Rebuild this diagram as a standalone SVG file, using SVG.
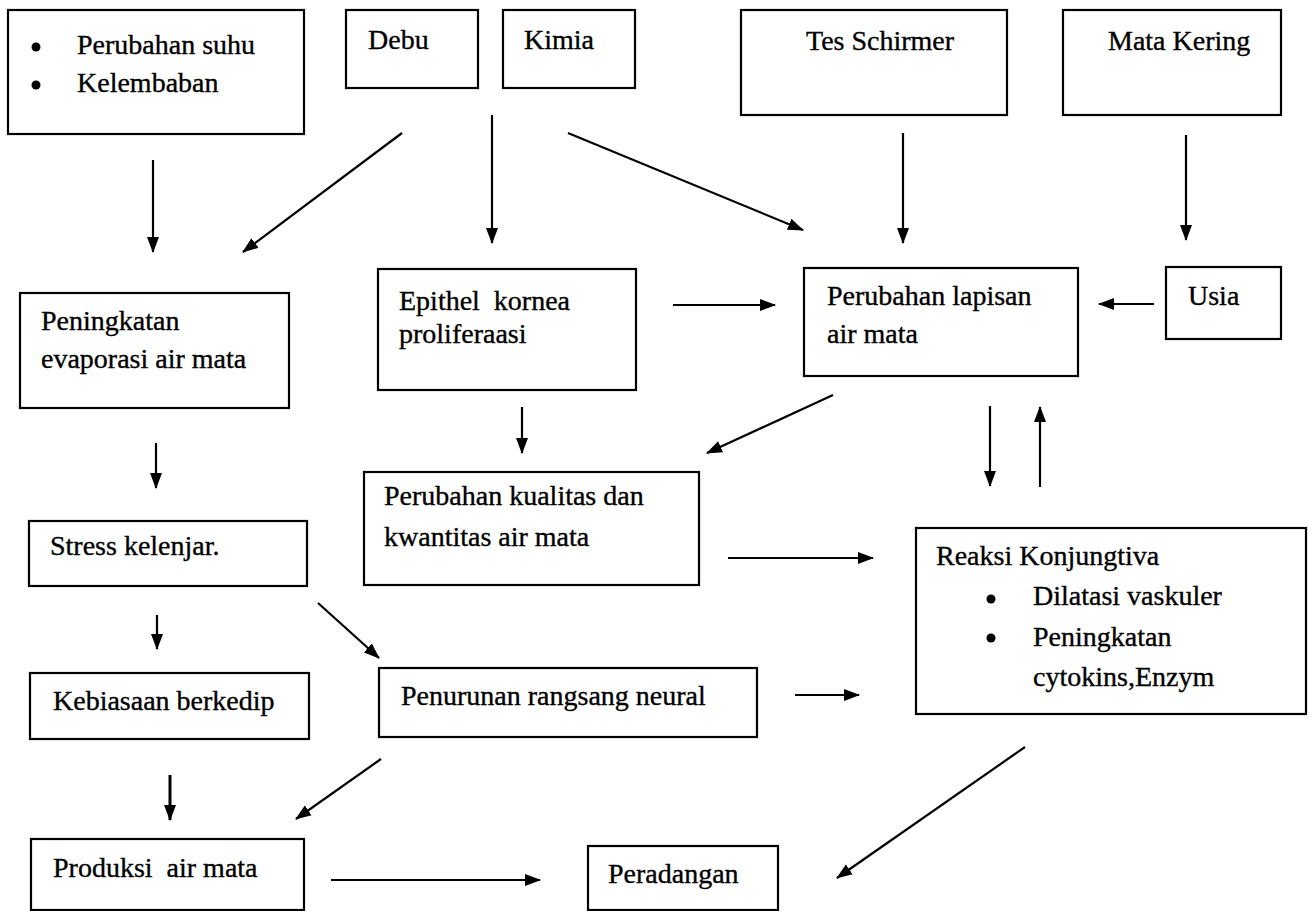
<svg xmlns="http://www.w3.org/2000/svg" width="1309" height="911" viewBox="0 0 1309 911">
<defs>
<style>
.box{fill:none;stroke:#000;stroke-width:2.2}
.t{font-family:"Liberation Serif","Times New Roman",serif;font-size:28px;fill:#000;stroke:#000;stroke-width:0.35;white-space:pre}
.c{stroke:#000;stroke-width:2.2;fill:none;marker-end:url(#ah)}
</style>
<marker id="ah" markerUnits="userSpaceOnUse" markerWidth="16" markerHeight="14" viewBox="0 0 16 14" refX="15" refY="7" orient="auto">
<path d="M0,1 L16,7 L0,13 Z" fill="#000"/>
</marker>
</defs>
<rect width="1309" height="911" fill="#fff"/>
<g id="n-suhu"><rect class="box" x="8" y="10" width="296" height="124"/>
<circle cx="36" cy="47" r="4.5"/><circle cx="36" cy="85" r="4.5"/>
<text class="t" x="77" y="54">Perubahan suhu</text><text class="t" x="77" y="92">Kelembaban</text></g>
<g id="n-debu"><rect class="box" x="346" y="10" width="132" height="78"/><text class="t" x="368" y="49">Debu</text></g>
<g id="n-kimia"><rect class="box" x="503" y="10" width="132" height="78"/><text class="t" x="524" y="49">Kimia</text></g>
<g id="n-tes"><rect class="box" x="741" y="10" width="266" height="105"/><text class="t" x="806" y="50">Tes Schirmer</text></g>
<g id="n-mata"><rect class="box" x="1063" y="10" width="218" height="105"/><text class="t" x="1108" y="50">Mata Kering</text></g>
<g id="n-evap"><rect class="box" x="20" y="293" width="269" height="115"/><text class="t" x="41" y="330">Peningkatan</text><text class="t" x="41" y="368">evaporasi air mata</text></g>
<g id="n-epithel"><rect class="box" x="378" y="269" width="258" height="121"/><text class="t" x="399" y="310" xml:space="preserve">Epithel  kornea</text><text class="t" x="399" y="343">proliferaasi</text></g>
<g id="n-lapisan"><rect class="box" x="804" y="268" width="274" height="108"/><text class="t" x="827" y="305">Perubahan lapisan</text><text class="t" x="827" y="343">air mata</text></g>
<g id="n-usia"><rect class="box" x="1166" y="267" width="115" height="72"/><text class="t" x="1188" y="305">Usia</text></g>
<g id="n-stress"><rect class="box" x="29" y="521" width="278" height="65"/><text class="t" x="50" y="555">Stress kelenjar.</text></g>
<g id="n-kualitas"><rect class="box" x="364" y="472" width="335" height="113"/><text class="t" x="384" y="505">Perubahan kualitas dan</text><text class="t" x="384" y="546">kwantitas air mata</text></g>
<g id="n-reaksi"><rect class="box" x="916" y="528" width="390" height="186"/><text class="t" x="936" y="565">Reaksi Konjungtiva</text>
<circle cx="991" cy="599" r="4.5"/><circle cx="991" cy="638" r="4.5"/>
<text class="t" x="1033" y="605">Dilatasi vaskuler</text><text class="t" x="1033" y="646">Peningkatan</text><text class="t" x="1033" y="686">cytokins,Enzym</text></g>
<g id="n-kebiasaan"><rect class="box" x="30" y="673" width="279" height="66"/><text class="t" x="53" y="710">Kebiasaan berkedip</text></g>
<g id="n-penurunan"><rect class="box" x="379" y="668" width="378" height="69"/><text class="t" x="401" y="705">Penurunan rangsang neural</text></g>
<g id="n-produksi"><rect class="box" x="31" y="839" width="273" height="71"/><text class="t" x="53" y="877" xml:space="preserve">Produksi  air mata</text></g>
<g id="n-peradangan"><rect class="box" x="588" y="846" width="190" height="64"/><text class="t" x="608" y="883">Peradangan</text></g>
<g id="connectors">
<line class="c" x1="153" y1="160" x2="153" y2="252"/>
<line class="c" x1="402" y1="133" x2="243" y2="252"/>
<line class="c" x1="492" y1="115" x2="492" y2="243"/>
<line class="c" x1="568" y1="133" x2="803" y2="230"/>
<line class="c" x1="903" y1="133" x2="903" y2="243"/>
<line class="c" x1="1186" y1="135" x2="1186" y2="240"/>
<line class="c" x1="673" y1="305" x2="775" y2="305"/>
<line class="c" x1="1154" y1="304" x2="1099" y2="304"/>
<line class="c" x1="833" y1="395" x2="707" y2="453"/>
<line class="c" x1="990" y1="406" x2="990" y2="486"/>
<line class="c" x1="1040" y1="487" x2="1040" y2="407"/>
<line class="c" x1="156" y1="443" x2="156" y2="488"/>
<line class="c" x1="522" y1="407" x2="522" y2="453"/>
<line class="c" x1="728" y1="558" x2="873" y2="558"/>
<line class="c" x1="157" y1="615" x2="157" y2="649"/>
<line class="c" x1="318" y1="603" x2="379" y2="658"/>
<line class="c" x1="795" y1="695" x2="859" y2="695"/>
<line class="c" x1="170" y1="775" x2="170" y2="820" style="stroke-width:3"/>
<line class="c" x1="381" y1="759" x2="296" y2="819"/>
<line class="c" x1="1025" y1="747" x2="837" y2="878"/>
<line class="c" x1="331" y1="880" x2="540" y2="880"/>
</g>
</svg>
